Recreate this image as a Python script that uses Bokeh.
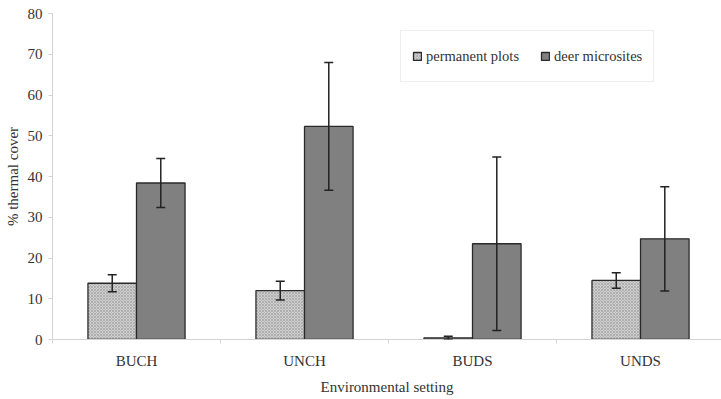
from bokeh.plotting import figure
from bokeh.models import ColumnDataSource, Whisker, TeeHead, FixedTicker, Range1d, Legend, LegendItem
from bokeh.embed import file_html
from bokeh.resources import INLINE

categories = ["BUCH", "UNCH", "BUDS", "UNDS"]
permanent_means = [13.8, 12.0, 0.4, 14.5]
permanent_err = [2.1, 2.3, 0.4, 1.9]
deer_means = [38.4, 52.3, 23.5, 24.7]
deer_err = [6.0, 15.7, 21.3, 12.8]
y_ticks = [0, 10, 20, 30, 40, 50, 60, 70, 80]

FONT = "Liberation Serif"
FS = "15px"
bw = 0.289
centers = [i + 0.5 for i in range(len(categories))]

p = figure(width=721, height=399, output_backend="svg", toolbar_location=None,
           x_range=Range1d(0, 3.982), y_range=Range1d(0, 80),
           min_border_left=52, min_border_right=0, min_border_top=13, min_border_bottom=60)
p.outline_line_color = None
p.grid.grid_line_color = None
p.background_fill_color = "white"

src_p = ColumnDataSource(dict(
    x=[c - bw / 2 for c in centers], top=permanent_means,
    lo=[m - e for m, e in zip(permanent_means, permanent_err)],
    hi=[m + e for m, e in zip(permanent_means, permanent_err)]))
src_d = ColumnDataSource(dict(
    x=[c + bw / 2 for c in centers], top=deer_means,
    lo=[m - e for m, e in zip(deer_means, deer_err)],
    hi=[m + e for m, e in zip(deer_means, deer_err)]))

r1 = p.vbar(x="x", top="top", width=bw, source=src_p, fill_color="#cfcfcf",
            hatch_pattern="diagonal_cross", hatch_color="#8f8f8f", hatch_scale=3, hatch_weight=0.5,
            line_color="#2a2a2a", line_width=1.3)
r2 = p.vbar(x="x", top="top", width=bw, source=src_d, fill_color="#808080",
            line_color="#2a2a2a", line_width=1.3)

for src in (src_p, src_d):
    w = Whisker(base="x", lower="lo", upper="hi", source=src, line_color="#222222", line_width=1.5,
                level="overlay",
                upper_head=TeeHead(size=9, line_color="#222222", line_width=1.5),
                lower_head=TeeHead(size=9, line_color="#222222", line_width=1.5))
    p.add_layout(w)

# axes
p.yaxis.ticker = FixedTicker(ticks=y_ticks)
p.yaxis.axis_line_color = "#d4d4d4"
p.yaxis.major_tick_line_color = "#d4d4d4"
p.yaxis.major_tick_out = 4
p.yaxis.major_tick_in = 0
p.yaxis.minor_tick_line_color = None
p.yaxis.major_label_standoff = 6
p.yaxis.major_label_text_font = FONT
p.yaxis.major_label_text_font_size = FS
p.yaxis.major_label_text_color = "#333333"
p.yaxis.axis_label = "% thermal cover"
p.yaxis.axis_label_text_font = FONT
p.yaxis.axis_label_text_font_size = FS
p.yaxis.axis_label_text_font_style = "normal"
p.yaxis.axis_label_text_color = "#333333"
p.yaxis.axis_label_standoff = 4

p.xaxis.ticker = FixedTicker(ticks=centers, minor_ticks=[0, 1, 2, 3, 4])
p.xaxis.major_label_overrides = {c: n for c, n in zip(centers, categories)}
p.xaxis.axis_line_color = "#d4d4d4"
p.xaxis.major_tick_line_color = None
p.xaxis.minor_tick_line_color = "#d4d4d4"
p.xaxis.minor_tick_out = 4
p.xaxis.minor_tick_in = 0
p.xaxis.major_label_standoff = 7
p.xaxis.major_label_text_font = FONT
p.xaxis.major_label_text_font_size = FS
p.xaxis.major_label_text_color = "#333333"
p.xaxis.axis_label = "Environmental setting"
p.xaxis.axis_label_text_font = FONT
p.xaxis.axis_label_text_font_size = FS
p.xaxis.axis_label_text_font_style = "normal"
p.xaxis.axis_label_text_color = "#333333"
p.xaxis.axis_label_standoff = 7

legend = Legend(items=[LegendItem(label="permanent plots", renderers=[r1]),
                       LegendItem(label="deer microsites", renderers=[r2])],
                orientation="horizontal", location=(348, 257),
                label_text_font=FONT, label_text_font_size="14.5px", label_text_color="#333333",
                glyph_width=10, glyph_height=10, label_standoff=4, spacing=21,
                label_height=28, padding=11, margin=0,
                border_line_color="#dddddd", background_fill_color="white")
p.add_layout(legend)

open("out.html", "w").write(file_html(p, INLINE))
